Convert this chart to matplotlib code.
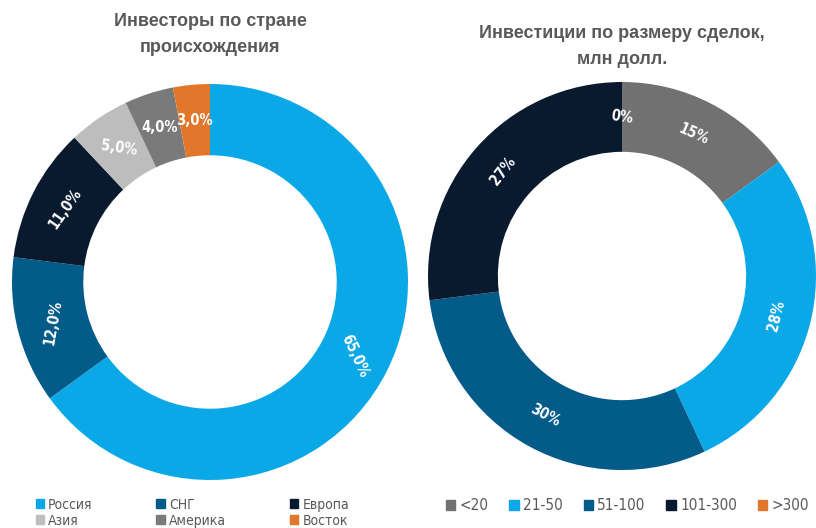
import matplotlib.pyplot as plt
import numpy as np
from matplotlib.patches import Patch

# investors by country of origin
country_labels = ["Россия", "СНГ", "Европа", "Азия", "Америка", "Восток"]
country_shares = [65.0, 12.0, 11.0, 5.0, 4.0, 3.0]
country_text = ["65,0%", "12,0%", "11,0%", "5,0%", "4,0%", "3,0%"]

# investments by deal size, mln USD
deal_labels = ["<20", "21-50", "51-100", "101-300", ">300"]
deal_shares = [15, 28, 30, 27, 0]
deal_text = ["15%", "28%", "30%", "27%", "0%"]

country_colors = ["#0aa8e6", "#035b8a", "#0a1a2e", "#bdbdbd", "#7a7a7a", "#e2772b"]
deal_colors = ["#717171", "#0aa8e6", "#035b8a", "#0a1a2e", "#e2772b"]

W, H = 816, 528
TITLE_C = "#595959"

fig = plt.figure(figsize=(W / 100, H / 100), dpi=100)
fig.patch.set_facecolor("white")


def donut(cx, cy, r, shares, colors, texts, rots):
    ax = fig.add_axes([(cx - r) / W, (H - cy - r) / H, 2 * r / W, 2 * r / H])
    wedges, _ = ax.pie(shares, colors=colors, startangle=90, counterclock=False,
                       wedgeprops=dict(width=0.36, linewidth=0))
    for w, t, rot in zip(wedges, texts, rots):
        ang = np.deg2rad((w.theta1 + w.theta2) / 2)
        ax.text(0.82 * np.cos(ang), 0.82 * np.sin(ang), t, color="white",
                fontsize=10.5, fontweight="bold", family="DejaVu Sans",
                fontstretch="condensed",
                ha="center", va="center", rotation=rot)
    ax.set_xlim(-1, 1)
    ax.set_ylim(-1, 1)
    ax.set_axis_off()
    return ax


donut(210, 282, 198, country_shares, country_colors, country_text,
      [-65, 80, 55, -8, 0, 0])
donut(622, 276, 194, deal_shares, deal_colors, deal_text,
      [-24, 76, -28, 52, -8])

title_kw = dict(ha="center", va="center", fontsize=13, fontweight="bold",
                color=TITLE_C, family="Liberation Sans")
fig.text(210 / W, 1 - 22 / H, "Инвесторы по стране", **title_kw)
fig.text(210 / W, 1 - 48 / H, "происхождения", **title_kw)
fig.text(622 / W, 1 - 34 / H, "Инвестиции по размеру сделок,", **title_kw)
fig.text(622 / W, 1 - 59 / H, "млн долл.", **title_kw)

legend_font = dict(family="DejaVu Sans", stretch="condensed", size=10)

# left legend: row-wise order for a 3-column layout
order = [0, 3, 1, 4, 2, 5]
handles = [Patch(color=country_colors[i], label=country_labels[i]) for i in order]
fig.legend(handles=handles, ncol=3, loc="upper left",
           bbox_to_anchor=(30 / W, 1 - 492 / H), frameon=False,
           handlelength=0.6, handleheight=0.6, handletextpad=0.3,
           columnspacing=4.6, labelspacing=0.15, borderaxespad=0,
           prop=legend_font, labelcolor="#595959")

handles2 = [Patch(color=c, label=l) for c, l in zip(deal_colors, deal_labels)]
fig.legend(handles=handles2, ncol=5, loc="upper left",
           bbox_to_anchor=(440 / W, 1 - 492 / H), frameon=False,
           handlelength=0.6, handleheight=0.6, handletextpad=0.3,
           columnspacing=1.35, borderaxespad=0,
           prop=dict(family="DejaVu Sans", stretch="condensed", size=11),
           labelcolor="#595959")

fig.savefig("out.png", dpi=100)
